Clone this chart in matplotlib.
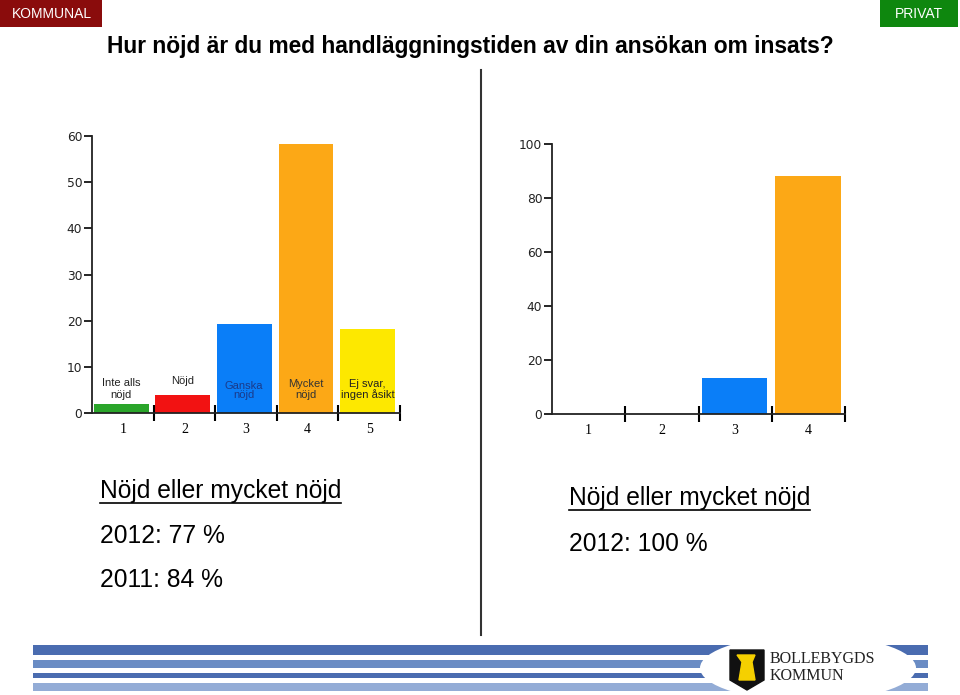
import matplotlib
matplotlib.use("Agg")
import matplotlib.pyplot as plt
from matplotlib.patches import Rectangle, Ellipse, Polygon

# data
kommunal_cats = ["1", "2", "3", "4", "5"]
kommunal_vals = [2, 4, 19.2, 58.2, 18.2]
kommunal_cols = ["#2aa52a", "#f21212", "#0a7ef8", "#fca816", "#fde800"]
kommunal_labels = ["Inte alls\nnöjd", "Nöjd", "Ganska\nnöjd", "Mycket\nnöjd", "Ej svar,\ningen åsikt"]

privat_cats = ["1", "2", "3", "4"]
privat_vals = [0, 0, 13.3, 88.1]
privat_cols = ["#2aa52a", "#f21212", "#0a7ef8", "#fca816"]

title = "Hur nöjd är du med handläggningstiden av din ansökan om insats?"
left_text = ["2012: 77 %", "2011: 84 %"]
right_text = ["2012: 100 %"]

W, H = 960, 695
fig = plt.figure(figsize=(W / 100, H / 100), dpi=100)
plt.rcParams['font.family'] = ['Liberation Sans', 'DejaVu Sans']

# background layer in pixel coords
bg = fig.add_axes([0, 0, 1, 1])
bg.set_xlim(0, W)
bg.set_ylim(H, 0)
bg.axis("off")


def px_axes(x0, y0, x1, y1):
    # y0 top, y1 bottom, in pixels
    return fig.add_axes([x0 / W, (H - y1) / H, (x1 - x0) / W, (y1 - y0) / H])


# header boxes
bg.add_patch(Rectangle((0, 0), 102, 27, color="#8a0c0c", lw=0))
bg.text(52, 14, "KOMMUNAL", color="white", fontsize=10, ha="center", va="center")
bg.add_patch(Rectangle((880, 0), 78, 27, color="#0e870e", lw=0))
bg.text(919, 14, "PRIVAT", color="white", fontsize=10, ha="center", va="center")

bg.text(470, 47, title, fontsize=16.4, fontweight="bold", ha="center", va="center")

# divider
bg.plot([481, 481], [70, 635], color="#333333", lw=1.5)

# footer stripes
stripes = [(645, 655, "#4a6cb0"), (660, 668, "#6a8cc4"), (673, 678, "#4a6cb0"), (683, 691, "#93acd6")]
for y0, y1, c in stripes:
    bg.add_patch(Rectangle((33, y0), 895, y1 - y0, color=c, lw=0))
bg.add_patch(Ellipse((808, 668), 216, 66, color="white", lw=0))
bg.add_patch(Polygon([(730, 650), (764, 650), (764, 680), (747, 690), (730, 680)], closed=True, color="#111111"))
bg.add_patch(Polygon([(737, 655), (755, 655), (752, 662), (755, 680), (739, 680), (742, 662)], closed=True, color="#f5d000"))
bg.text(770, 659, "BOLLEBYGDS", family="Liberation Serif", fontsize=11.5, va="center", color="#222222")
bg.text(770, 676, "KOMMUN", family="Liberation Serif", fontsize=11.5, va="center", color="#222222")

# summary texts
fs = 17.7
t1 = bg.text(100, 491, "Nöjd eller mycket nöjd", fontsize=fs, ha="left", va="center")
for i, s in enumerate(left_text):
    bg.text(100, 536 + 44 * i, s, fontsize=fs, ha="left", va="center")
t2 = bg.text(569, 498, "Nöjd eller mycket nöjd", fontsize=fs, ha="left", va="center")
for i, s in enumerate(right_text):
    bg.text(569, 544 + 44 * i, s, fontsize=fs, ha="left", va="center")


def style_axes(ax, n, ymax, ystep):
    ax.set_xlim(0.5, n + 0.5)
    ax.set_ylim(0, ymax)
    for s in ["top", "right"]:
        ax.spines[s].set_visible(False)
    for s in ["left", "bottom"]:
        ax.spines[s].set_color("#222222")
        ax.spines[s].set_linewidth(1.3)
    ax.set_yticks(range(0, ymax + 1, ystep))
    ax.tick_params(axis="y", direction="out", length=6, width=1.2, labelsize=8.8,
                   labelcolor="#222222", pad=1)
    for lab in ax.get_yticklabels():
        lab.set_family("DejaVu Sans")
    ax.set_xticks([i + 1.5 for i in range(n)])
    ax.set_xticklabels([])
    ax.tick_params(axis="x", which="major", direction="inout", length=11, width=1.5)
    ax.set_xticks(range(1, n + 1), minor=True)
    ax.tick_params(axis="x", which="minor", length=0, pad=7, labelsize=10)
    ax.patch.set_alpha(0)


ax1 = px_axes(92, 136, 400, 413)
ax1.bar(range(1, 6), kommunal_vals, width=0.89, align="edge", color=kommunal_cols)
for p in ax1.patches:
    p.set_x(p.get_x() - 0.47)
style_axes(ax1, 5, 60, 10)
ax1.set_xticklabels(kommunal_cats, minor=True, family="Liberation Serif")
label_y = [5.1, 6.9, 4.9, 5.1, 5.1]
label_c = ["#222222", "#222222", "#1a3a8a", "#333333", "#222222"]
label_ls = [1.25, 1.0, 0.95, 1.1, 1.1]
for i, (lab, ly, lc, ls) in enumerate(zip(kommunal_labels, label_y, label_c, label_ls)):
    ax1.text(i + 1 - 0.03, ly, lab, ha="center", va="center", fontsize=8, color=lc,
             linespacing=ls)

ax2 = px_axes(552, 144, 845, 414)
ax2.bar(range(1, 5), privat_vals, width=0.89, align="edge", color=privat_cols)
for p in ax2.patches:
    p.set_x(p.get_x() - 0.45)
style_axes(ax2, 4, 100, 20)
ax2.set_xticklabels(privat_cats, minor=True, family="Liberation Serif")

# underlines
fig.canvas.draw()
inv = bg.transData.inverted()
for t in (t1, t2):
    bb = t.get_window_extent()
    (xa, ya), (xb, yb) = inv.transform([[bb.x0, bb.y0], [bb.x1, bb.y0]])
    bg.plot([xa, xb], [ya, ya], color="black", lw=1.2)

fig.savefig("out.png", dpi=100)
